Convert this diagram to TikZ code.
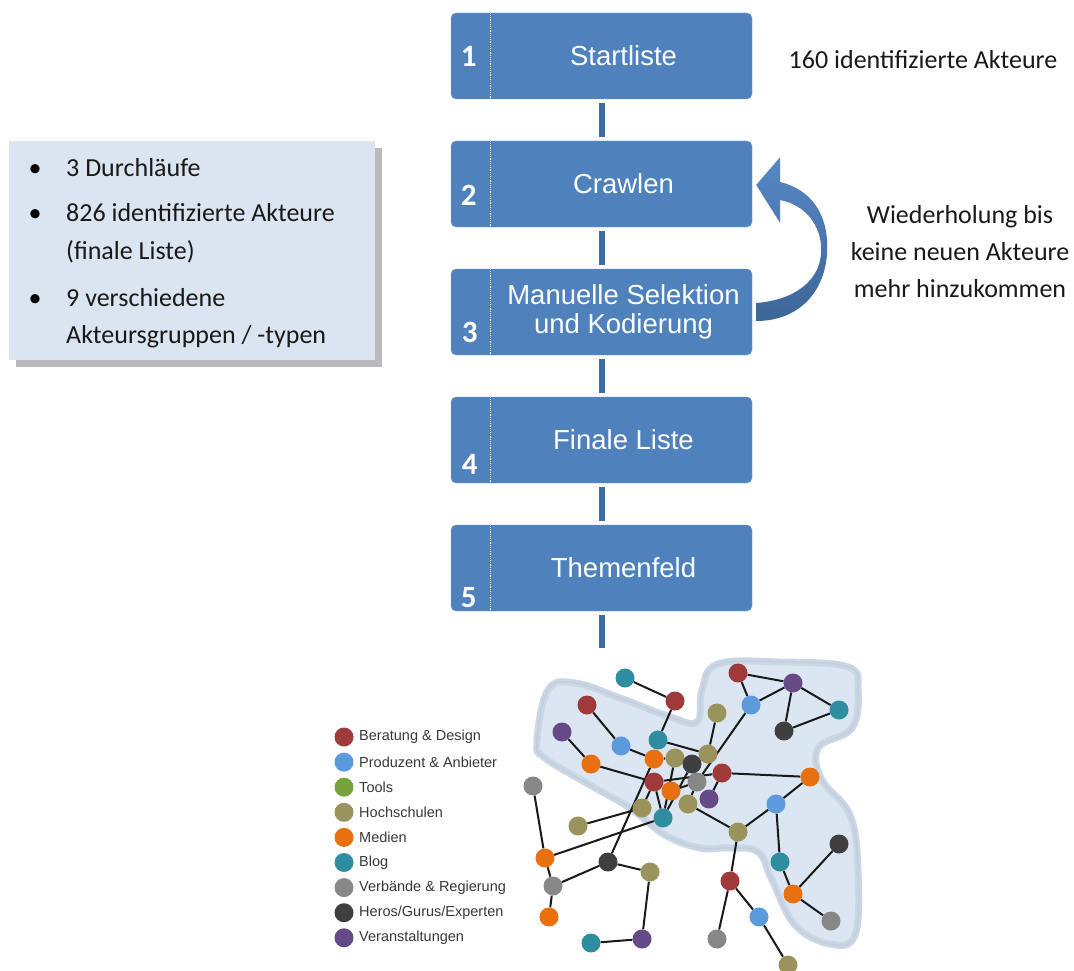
\documentclass[tikz,border=0pt]{standalone}
\usepackage{fontspec}
\setmainfont{Carlito}
\newfontfamily\arialfont{Liberation Sans}
\usepackage{tikz}
\usetikzlibrary{positioning,calc,shadows}

\definecolor{stepblue}{HTML}{4F81BD}
\definecolor{stepedge}{HTML}{7FA3D2}
\definecolor{barblue}{HTML}{3E6CA4}
\definecolor{arrowtop}{HTML}{5688C6}
\definecolor{arrowbot}{HTML}{3D6597}
\definecolor{infofill}{HTML}{DBE5F1}
\definecolor{blobfill}{HTML}{DCE6F2}
\definecolor{blobedge}{HTML}{CBD7E5}
\definecolor{blobrim}{HTML}{BCCADC}
\definecolor{beratung}{HTML}{A0393A}
\definecolor{produzent}{HTML}{5B9BDC}
\definecolor{tools}{HTML}{77A23E}
\definecolor{hochschule}{HTML}{9A935B}
\definecolor{medien}{HTML}{E8700E}
\definecolor{blog}{HTML}{2E8EA0}
\definecolor{verband}{HTML}{878787}
\definecolor{hero}{HTML}{3F3F3F}
\definecolor{event}{HTML}{654A87}

\pgfdeclarelayer{back}
\pgfdeclarelayer{mid}
\pgfsetlayers{back,mid,main}

\begin{document}
\begin{tikzpicture}[x=1pt, y=-1pt, node distance=128pt]
\tikzstyle{stepbox}=[draw=stepedge, fill=stepblue, rounded corners=5pt, minimum width=301pt, minimum height=86pt, inner sep=0pt]
\tikzstyle{steptext}=[text=white, font=\arialfont\fontsize{27.5}{29}\selectfont, align=center]
\tikzstyle{stepnum}=[text=white, font=\bfseries\fontsize{31}{34}\selectfont]
\tikzstyle{dotline}=[white, densely dotted, line width=1.2pt]
\tikzstyle{bar}=[draw=barblue, line width=6pt, shorten <=4pt, shorten >=4pt]
\tikzstyle{note}=[font=\fontsize{26}{37}\selectfont, text=black!90, align=center]
\tikzstyle{infotext}=[font=\fontsize{26}{37}\selectfont, text=black!90, anchor=base west, inner sep=0pt]
\tikzstyle{dot}=[circle, inner sep=0pt, minimum size=19pt]
\tikzstyle{br}=[dot, fill=beratung]
\tikzstyle{pa}=[dot, fill=produzent]
\tikzstyle{hs}=[dot, fill=hochschule]
\tikzstyle{me}=[dot, fill=medien]
\tikzstyle{bl}=[dot, fill=blog]
\tikzstyle{vr}=[dot, fill=verband]
\tikzstyle{he}=[dot, fill=hero]
\tikzstyle{va}=[dot, fill=event]
\tikzstyle{netedge}=[draw=black!90, line width=2pt]
\tikzstyle{legendtext}=[font=\arialfont\fontsize{14.5}{16}\selectfont, text=black!78]

\useasboundingbox (0,0) rectangle (1074,971);

% process steps
\node[stepbox] (s1) at (601.5,56) {};
\node[stepbox] (s2) [below of=s1] {};
\node[stepbox] (s3) [below of=s2] {};
\node[stepbox] (s4) [below of=s3] {};
\node[stepbox] (s5) [below of=s4] {};
\foreach \i in {1,...,5}
  \draw[dotline] ([xshift=40pt]s\i.north west) -- ([xshift=40pt]s\i.south west);

\node[steptext] (t1) at ([xshift=22pt]s1.center) {Startliste};
\node[steptext] (t2) at ([xshift=22pt]s2.center) {Crawlen};
\node[steptext] (t3) at ([xshift=22pt]s3.center) {Manuelle Selektion\\und Kodierung};
\node[steptext] (t4) at ([xshift=22pt]s4.center) {Finale Liste};
\node[steptext] (t5) at ([xshift=22pt]s5.center) {Themenfeld};

\node[stepnum] (n1) at ([xshift=18pt]s1.west) {1};
\node[stepnum] (n2) at ([xshift=18pt,yshift=-11pt]s2.west) {2};
\node[stepnum] (n3) at ([xshift=19pt,yshift=-20pt]s3.west) {3};
\node[stepnum] (n4) at ([xshift=19pt,yshift=-24pt]s4.west) {4};
\node[stepnum] (n5) at ([xshift=18pt,yshift=-30pt]s5.west) {5};

\coordinate (tail) at ([yshift=-37pt]s5.south);
\draw[bar] (s1) -- (s2);
\draw[bar] (s2) -- (s3);
\draw[bar] (s3) -- (s4);
\draw[bar] (s4) -- (s5);
\draw[bar, shorten >=0pt] (s5) -- (tail);

% loop arrow
\begin{scope}[shift={(s2.east)}]
\shade[top color=arrowtop, bottom color=arrowbot]
  (4,1) -- (28,-27) -- (28,-2) .. controls (60,6) and (76,31) .. (75,66)
  .. controls (74,106) and (48,137) .. (4,137) -- (4,119)
  .. controls (43,116) and (69,96) .. (69,66)
  .. controls (69,41) and (53,21) .. (28,16) -- (28,39) -- cycle;
\end{scope}

\node[note] (start) at (923,60) {160 identifizierte Akteure};
\node[note] (repeat) at (960,252) {Wiederholung bis\\keine neuen Akteure\\mehr hinzukommen};

% info box
\node[fill=infofill, minimum width=366pt, minimum height=219pt, inner sep=0pt,
      drop shadow={shadow xshift=7pt, shadow yshift=-7pt, fill=black!27, opacity=1}] (info) at (192,250.5) {};
\foreach \y in {176,222,306}
  \node[font=\fontsize{26}{30}\selectfont, anchor=base, inner sep=0pt] at (35,\y) {\textbullet};
\node[infotext] (i1) at (66,176) {3 Durchläufe};
\node[infotext] (i2) at (66,222) {826 identifizierte Akteure};
\node[infotext] (i3) at (66,259) {(finale Liste)};
\node[infotext] (i4) at (66,306) {9 verschiedene};
\node[infotext] (i5) at (66,343) {Akteursgruppen / -typen};

% legend
\foreach \c/\t [count=\i] in {beratung/{Beratung \& Design}, produzent/{Produzent \& Anbieter},
    tools/{Tools}, hochschule/{Hochschulen}, medien/{Medien}, blog/{Blog},
    verband/{Verbände \& Regierung}, hero/{Heros/Gurus/Experten}, event/{Veranstaltungen}}
{
  \node[dot, fill=\c] (l\i) at (344,{737+25.1*(\i-1)}) {};
  \node[legendtext, right=2pt of l\i] {\t};
}

% network
\begin{pgfonlayer}{back}
\filldraw[fill=blobfill, draw=blobedge, line width=7pt] plot[smooth cycle, tension=0.65] coordinates {
  (537,742) (548,690) (575,683) (620,698) (668,716) (697,722) (702,690) (718,664)
  (780,662) (848,667) (858,690) (852,728) (818,748) (822,780) (850,815) (858,870)
  (855,935) (830,944) (795,925) (772,880) (758,852) (730,848) (700,848) (665,835)
  (630,808) (590,785) (545,758)};
\draw[draw=blobrim, line width=2pt, opacity=0.6] plot[smooth cycle, tension=0.65] coordinates {
  (537,742) (548,690) (575,683) (620,698) (668,716) (697,722) (702,690) (718,664)
  (780,662) (848,667) (858,690) (852,728) (818,748) (822,780) (850,815) (858,870)
  (855,935) (830,944) (795,925) (772,880) (758,852) (730,848) (700,848) (665,835)
  (630,808) (590,785) (545,758)};
\end{pgfonlayer}

\node[bl] (bl1) at (625,678) {};
\node[br] (br1) at (675,701) {};
\node[br] (br2) at (738,673) {};
\node[va] (va1) at (793,683) {};
\node[pa] (pa1) at (751,705) {};
\node[bl] (bl2) at (839,710) {};
\node[he] (he1) at (784,731) {};
\node[br] (br3) at (587,705) {};
\node[va] (va2) at (562,732) {};
\node[pa] (pa2) at (621,746) {};
\node[bl] (bl3) at (658,740) {};
\node[hs] (hs1) at (717,713) {};
\node[hs] (hs2) at (708,754) {};
\node[me] (me1) at (591,764) {};
\node[me] (me2) at (654,759) {};
\node[hs] (hs3) at (675,758) {};
\node[he] (he2) at (692,764) {};
\node[br] (br4) at (722,773) {};
\node[me] (me3) at (810,777) {};
\node[br] (br5) at (654,782) {};
\node[vr] (vr1) at (697,782) {};
\node[me] (me4) at (671,791) {};
\node[va] (va3) at (709,799) {};
\node[hs] (hs4) at (688,804) {};
\node[hs] (hs5) at (642,808) {};
\node[bl] (bl4) at (663,818) {};
\node[pa] (pa3) at (776,804) {};
\node[vr] (vr2) at (533,786) {};
\node[hs] (hs6) at (578,826) {};
\node[hs] (hs7) at (738,832) {};
\node[he] (he3) at (839,844) {};
\node[me] (me5) at (545,858) {};
\node[he] (he4) at (608,862) {};
\node[hs] (hs8) at (650,872) {};
\node[bl] (bl5) at (780,862) {};
\node[br] (br6) at (730,881) {};
\node[vr] (vr3) at (553,886) {};
\node[me] (me6) at (793,894) {};
\node[me] (me7) at (549,917) {};
\node[pa] (pa4) at (759,917) {};
\node[vr] (vr4) at (831,921) {};
\node[bl] (bl6) at (591,943) {};
\node[va] (va4) at (642,939) {};
\node[vr] (vr5) at (717,939) {};
\node[hs] (hs9) at (788,965) {};

\begin{pgfonlayer}{mid}
\path[netedge]
(bl1) edge (br1)
(br1) edge (bl3)
(br2) edge (pa1)
      edge (va1)
(pa1) edge (va1)
      edge (vr1)
(va1) edge (bl2)
      edge (he1)
(bl2) edge (he1)
(hs1) edge (hs2)
(bl3) edge (hs2)
(br3) edge (pa2)
(pa2) edge (me2)
(va2) edge (me1)
(me1) edge (br5)
(me2) edge (he4)
      edge (hs3)
(hs3) edge (bl4)
(he2) edge (bl4)
(vr1) edge (me4)
      edge (hs4)
(br5) edge (bl4)
      edge (br4)
(br4) edge (me3)
      edge (va3)
(hs5) edge (br5)
(hs6) edge (hs5)
(vr2) edge (me5)
(me5) edge (bl4)
      edge (vr3)
(vr3) edge (he4)
      edge (me7)
(he4) edge (hs8)
(hs8) edge (va4)
(va4) edge (bl6)
(hs4) edge (hs7)
(hs7) edge (pa3)
      edge (br6)
(pa3) edge (me3)
      edge (bl5)
(bl5) edge (me6)
(me6) edge (he3)
      edge (vr4)
(br6) edge (vr5)
      edge (pa4)
(pa4) edge (hs9);
\end{pgfonlayer}
\end{tikzpicture}
\end{document}
